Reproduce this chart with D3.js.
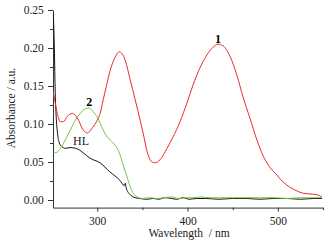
<!DOCTYPE html>
<html>
<head>
<meta charset="utf-8">
<script src="https://cdn.jsdelivr.net/npm/d3@7"></script>
<style>
  body { margin: 0; background: #fff; }
  svg { display: block; font-family: "Liberation Serif", "DejaVu Serif", serif; }
</style>
</head>
<body>
<div id="chart"></div>
<script>
// spectrum 1 (red)
const nm1 = [251.4, 255.8, 259.1, 262.4, 266.9, 272.4, 277.9, 284.5, 289, 294.5, 300, 303.3, 306.6, 310, 314.4, 319.9, 324.3, 330.9, 336.5, 342, 347.5, 350.8, 356.4, 360.8, 364.1, 369.6, 377.3, 384, 391.7, 399.4, 406, 413.8, 421.5, 428.2, 433.7, 439.2, 447, 454.7, 461.3, 469, 476.8, 483.4, 491.2, 498.9, 505.5, 513.3, 521, 527.6, 535.4, 543.1, 548.6];
const abs1 = [0.142, 0.114, 0.103, 0.103, 0.110, 0.114, 0.108, 0.092, 0.088, 0.095, 0.105, 0.114, 0.132, 0.149, 0.171, 0.188, 0.195, 0.184, 0.158, 0.132, 0.105, 0.088, 0.059, 0.050, 0.049, 0.053, 0.068, 0.083, 0.103, 0.128, 0.151, 0.174, 0.191, 0.201, 0.205, 0.203, 0.189, 0.164, 0.136, 0.108, 0.079, 0.059, 0.043, 0.033, 0.024, 0.017, 0.012, 0.009, 0.008, 0.007, 0.004];

// spectrum 2 (green)
const nm2 = [251.4, 255.8, 259.1, 264.6, 270.2, 275.7, 281.2, 286.7, 291.2, 295.6, 300, 303.3, 306.6, 311, 314.4, 317.7, 322.1, 325.4, 328.7, 333.1, 336.5, 339.8, 344.2, 350, 358, 366, 374, 382, 390, 398, 406, 414, 424, 436, 450, 465, 480, 495, 510, 525, 540, 549];
const abs2 = [0.062, 0.063, 0.068, 0.079, 0.092, 0.105, 0.114, 0.120, 0.121, 0.116, 0.109, 0.101, 0.092, 0.083, 0.079, 0.075, 0.068, 0.059, 0.046, 0.030, 0.017, 0.009, 0.004, 0.002, 0.003, 0.002, 0.003, 0.004, 0.002, 0.003, 0.003, 0.004, 0.003, 0.003, 0.003, 0.003, 0.003, 0.003, 0.002, 0.003, 0.003, 0.003];

// ligand HL (black)
const nmHL = [251.4, 252.5, 253.5, 254.5, 256, 258, 261, 265, 270, 276, 280, 284.5, 292, 303, 314, 325, 330, 331, 332, 336.5, 342, 347, 355, 362, 368, 375, 382, 388, 395, 402, 410, 420, 435, 450, 465, 480, 495, 510, 525, 540, 549];
const absHL = [0.245, 0.200, 0.140, 0.110, 0.088, 0.075, 0.070, 0.068, 0.069, 0.068, 0.066, 0.062, 0.055, 0.049, 0.037, 0.026, 0.019, 0.022, 0.016, 0.007, 0.003, 0.002, 0.001, 0.002, 0.001, 0.003, 0.002, 0.001, 0.003, 0.001, 0.002, 0.002, 0.001, 0.002, 0.002, 0.001, 0.002, 0.002, 0.001, 0.002, 0.002];

const xMajor = [300, 400, 500];
const xMinor = [350, 450, 550];
const yMajor = [0, 0.05, 0.10, 0.15, 0.20, 0.25];
const yMinor = [0.025, 0.075, 0.125, 0.175, 0.225];

const W = 328, H = 244;
const svg = d3.select("#chart").append("svg")
  .attr("width", W).attr("height", H);

const x = d3.scaleLinear().domain([251, 550]).range([53, 323]);
const y = d3.scaleLinear().domain([-0.01, 0.25]).range([207.6, 10]);

const axisColor = "#333";

// x axis
const gx = svg.append("g").attr("transform", `translate(0,${y(-0.01)})`);
gx.call(d3.axisBottom(x).tickValues(xMajor).tickSize(4).tickSizeOuter(0).tickFormat(d3.format("d")));
gx.append("g").call(d3.axisBottom(x).tickValues(xMinor).tickSize(2.5).tickSizeOuter(0).tickFormat(""))
  .select(".domain").remove();

// y axis
const gy = svg.append("g").attr("transform", `translate(${x(251)},0)`);
gy.call(d3.axisLeft(y).tickValues(yMajor).tickSize(5).tickSizeOuter(0).tickFormat(d3.format(".2f")));
gy.append("g").call(d3.axisLeft(y).tickValues(yMinor).tickSize(3).tickSizeOuter(0).tickFormat(""))
  .select(".domain").remove();

svg.selectAll(".domain, .tick line").attr("stroke", axisColor).attr("stroke-width", 1);
svg.selectAll(".tick text")
  .attr("font-family", "Liberation Serif, serif")
  .attr("font-size", 11.5).attr("fill", "#222");
gx.selectAll(".tick text").attr("dy", "0.9em");
gy.selectAll(".tick text").attr("dx", "-0.1em");

// axis titles
svg.append("text")
  .attr("x", 189).attr("y", 237)
  .attr("text-anchor", "middle")
  .attr("font-size", 11.5).attr("fill", "#222")
  .attr("xml:space", "preserve")
  .text("Wavelength  / nm");

svg.append("text")
  .attr("transform", "translate(15,108) rotate(-90)")
  .attr("text-anchor", "middle")
  .attr("font-size", 11.5).attr("fill", "#222")
  .text("Absorbance / a.u.");

// curves
const line = d3.line()
  .x(d => x(d[0]))
  .y(d => y(d[1]))
  .curve(d3.curveMonotoneX);

const series = [
  { nm: nmHL, abs: absHL, color: "#111" },
  { nm: nm2, abs: abs2, color: "#7cc242" },
  { nm: nm1, abs: abs1, color: "#ec2a2a" }
];

svg.selectAll("path.spec")
  .data(series)
  .enter()
  .append("path")
  .attr("class", "spec")
  .attr("fill", "none")
  .attr("stroke", d => d.color)
  .attr("stroke-width", 1)
  .attr("d", d => line(d.nm.map((v, i) => [v, d.abs[i]])));

// curve labels
svg.append("text")
  .attr("x", x(433.7)).attr("y", y(0.205) - 1)
  .attr("text-anchor", "middle")
  .attr("font-size", 12).attr("font-weight", "bold")
  .text("1");

svg.append("text")
  .attr("x", x(291.2)).attr("y", y(0.121) - 2)
  .attr("text-anchor", "middle")
  .attr("font-size", 12).attr("font-weight", "bold")
  .text("2");

svg.append("text")
  .attr("x", x(282)).attr("y", y(0.068) - 3)
  .attr("text-anchor", "middle")
  .attr("font-size", 12).attr("fill", "#222")
  .text("HL");
</script>
</body>
</html>
